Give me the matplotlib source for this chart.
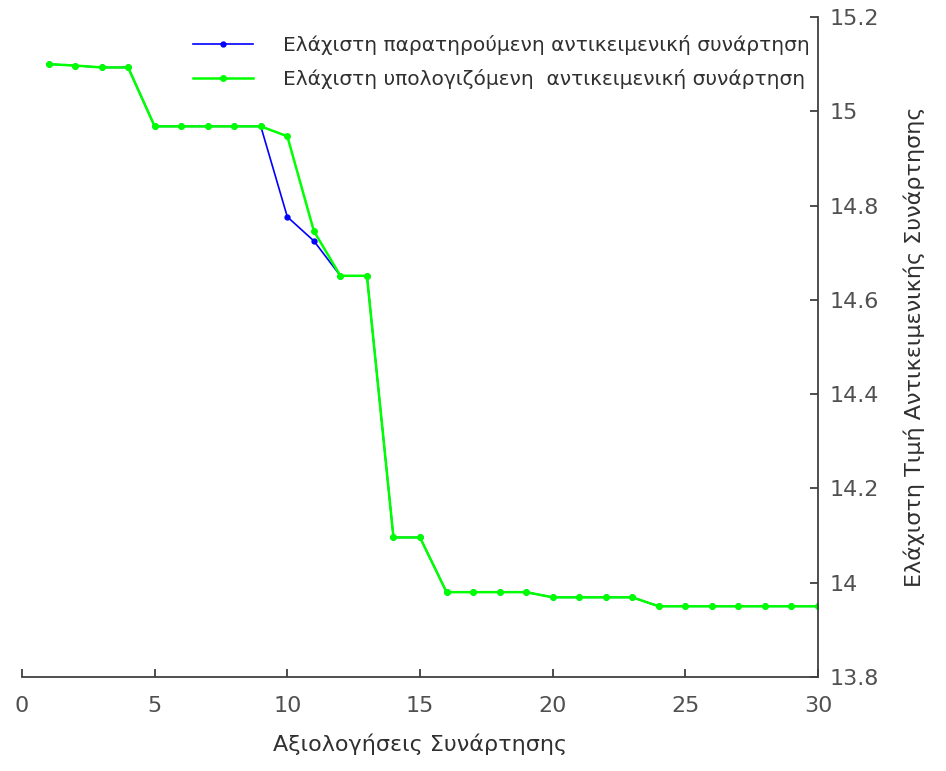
import numpy as np
import matplotlib
matplotlib.use('Agg')
import matplotlib.pyplot as plt
from matplotlib.ticker import FuncFormatter

plt.rcParams['font.family'] = ['DejaVu Sans']

evals = np.arange(1, 31)
observed = [15.100, 15.097, 15.093, 15.093, 14.968, 14.968, 14.968, 14.968, 14.968, 14.776,
            14.725, 14.651, 14.651, 14.096, 14.096, 13.980, 13.980, 13.980, 13.980, 13.969,
            13.969, 13.969, 13.969, 13.950, 13.950, 13.950, 13.950, 13.950, 13.950, 13.950]
computed = [15.100, 15.097, 15.093, 15.093, 14.968, 14.968, 14.968, 14.968, 14.968, 14.947,
            14.746, 14.651, 14.651, 14.096, 14.096, 13.980, 13.980, 13.980, 13.980, 13.969,
            13.969, 13.969, 13.969, 13.950, 13.950, 13.950, 13.950, 13.950, 13.950, 13.950]

lbl_obs = 'Ελάχιστη παρατηρούμενη αντικειμενική συνάρτηση'
lbl_comp = 'Ελάχιστη υπολογιζόμενη  αντικειμενική συνάρτηση'

grey = '#404040'

fig = plt.figure(figsize=(9.46, 7.71), dpi=100)
ax = fig.add_axes([22/946, 94/771, 796/946, 660/771])

ax.plot(evals, observed, color='#0000ff', lw=1.2, marker='.', ms=7, label=lbl_obs)
ax.plot(evals, computed, color='#00ff00', lw=1.8, marker='.', ms=8, label=lbl_comp)

ax.set_xlim(0, 30)
ax.set_ylim(13.8, 15.2)
ax.set_xticks(np.arange(0, 31, 5))
ax.set_yticks(np.arange(13.8, 15.21, 0.2))
ax.yaxis.set_major_formatter(FuncFormatter(lambda v, p: f'{v:.1f}'.rstrip('0').rstrip('.')))

for s in ['top', 'left']:
    ax.spines[s].set_visible(False)
for s in ['bottom', 'right']:
    ax.spines[s].set_color(grey)
    ax.spines[s].set_linewidth(1.3)

ax.yaxis.tick_right()
ax.yaxis.set_label_position('right')
ax.tick_params(axis='both', direction='in', length=6, width=1.3, color=grey,
               labelcolor='#505050', labelsize=16)
ax.tick_params(axis='x', pad=14)
ax.tick_params(axis='y', pad=8)

ax.set_xlabel('Αξιολογήσεις Συνάρτησης', fontsize=16, color='#303030', labelpad=12)
ax.set_ylabel('Ελάχιστη Τιμή Αντικειμενικής Συνάρτησης', fontsize=16, color='#303030',
              labelpad=18)

leg = ax.legend(loc='upper right', bbox_to_anchor=(1.012, 1.0), frameon=False,
                fontsize=14.5, handlelength=3.0, labelspacing=0.7, handletextpad=1.45)
for t in leg.get_texts():
    t.set_color('#303030')

plt.savefig('out.png', dpi=100)
